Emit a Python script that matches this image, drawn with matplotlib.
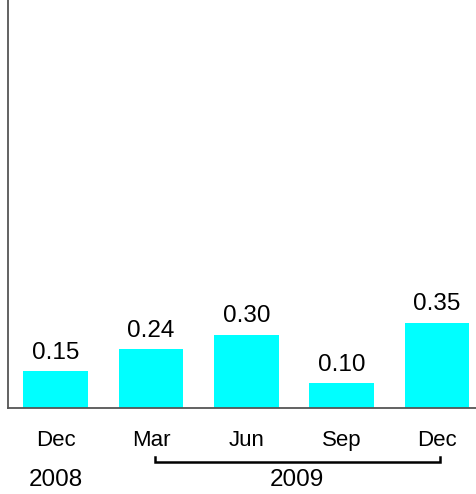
import matplotlib
matplotlib.use("Agg")
from matplotlib import pyplot as plt
import matplotlib.transforms as mtransforms

meses = ["Dec", "Mar", "Jun", "Sep", "Dec"]
valores = [0.15, 0.24, 0.30, 0.10, 0.35]
anyos = ["2008", "2009"]

plt.rcParams['font.family'] = ['Liberation Sans', 'DejaVu Sans']

fig = plt.figure(figsize=(4.76, 4.94), dpi=100)
ax = fig.add_axes([8 / 476, 86.3 / 494, 1 - 8 / 476, 1 - 86.3 / 494])

posiciones = list(range(len(valores)))
barras = ax.bar(posiciones, valores, width=0.68, color="#00FFFF", zorder=2)

# etiqueta con el valor encima de cada barra
for b, v in zip(barras, valores):
    ax.annotate(f"{v:.2f}", (b.get_x() + b.get_width() / 2, v),
                xytext=(0, 9.2), textcoords="offset points",
                ha="center", va="baseline", fontsize=17.5)

ax.set_xlim(-0.5, 4.41)
ax.set_ylim(0, 1.68)
ax.set_yticks([])
ax.set_xticks([])

for lado in ["top", "right"]:
    ax.spines[lado].set_visible(False)
for lado in ["left", "bottom"]:
    ax.spines[lado].set_color("#555555")
    ax.spines[lado].set_linewidth(1.3)

# meses y años debajo del eje, con corchete para 2009
trans = mtransforms.blended_transform_factory(ax.transData, fig.transFigure)
y_mes = 1 - 446 / 494
for x, m in zip(posiciones, meses):
    ax.text(x, y_mes, m, transform=trans, ha="center", va="baseline", fontsize=16)

y_anyo = 1 - 486 / 494
ax.text(0, y_anyo, anyos[0], transform=trans, ha="center", va="baseline", fontsize=17.5)
ax.text((1.04 + 4.03) / 2, y_anyo, anyos[1], transform=trans, ha="center", va="baseline", fontsize=17.5)

y_linea = 1 - 461.5 / 494
y_punta = 1 - 457 / 494
ax.plot([1.04, 1.04, 4.03, 4.03], [y_punta, y_linea, y_linea, y_punta],
        transform=trans, color="black", linewidth=1.8, clip_on=False,
        solid_joinstyle="miter")

fig.savefig("out.png", dpi=100)
